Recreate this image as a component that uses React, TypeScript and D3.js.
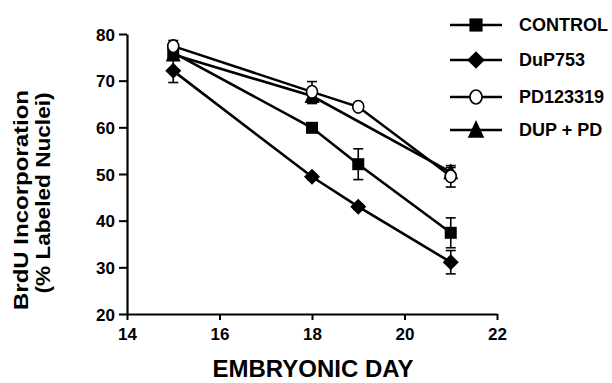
import * as d3 from "d3";
import { useEffect, useRef } from "react";

// embryonic days and BrdU values (% labeled nuclei)
const days = [15, 18, 19, 21];
const controlVals = [76, 59.9, 52.1, 37.4];
const controlErr = [0.6, 0.6, 3.3, 3.2];
const dupVals = [72.1, 49.4, 43, 31.1];
const dupErr = [2.5, 0.6, 0.6, 2.5];
const pdVals = [77.4, 67.6, 64.4, 49.5];
const pdErr = [1.2, 2.2, 0.6, 2.3];
const dupPdDays = [15, 18, 21];
const dupPdVals = [75.6, 66.7, 50.4];
const dupPdErr = [0.8, 1.6, 1.0];

const xTicks = [14, 16, 18, 20, 22];
const yTicks = [20, 30, 40, 50, 60, 70, 80];
const legendNames = ["CONTROL", "DuP753", "PD123319", "DUP + PD"];

const W = 612;
const H = 383;
const FONT = "'Liberation Sans', Arial, Helvetica, sans-serif";

const x = d3.scaleLinear().domain([14, 22]).range([127, 497]);
const y = d3.scaleLinear().domain([20, 80]).range([314, 34]);

type Kind = "square" | "diamond" | "circle" | "triangle";

function Marker({ kind, cx, cy, s = 1 }: { kind: Kind; cx: number; cy: number; s?: number }) {
  if (kind === "square") {
    const h = 6 * s;
    return <rect x={cx - h} y={cy - h} width={2 * h} height={2 * h} fill="#000" />;
  }
  if (kind === "diamond") {
    const h = 8 * s;
    return <path d={`M${cx},${cy - h}L${cx + h},${cy}L${cx},${cy + h}L${cx - h},${cy}Z`} fill="#000" />;
  }
  if (kind === "circle") {
    return <ellipse cx={cx} cy={cy} rx={5.5 * s} ry={6.3 * s} fill="#fff" stroke="#000" strokeWidth={1.6} />;
  }
  const w = 7.5 * s;
  return <path d={`M${cx},${cy - 9 * s}L${cx + w},${cy + 7 * s}L${cx - w},${cy + 7 * s}Z`} fill="#000" />;
}

const series = [
  { name: "DUP + PD", kind: "triangle" as Kind, xs: dupPdDays, vals: dupPdVals, err: dupPdErr },
  { name: "CONTROL", kind: "square" as Kind, xs: days, vals: controlVals, err: controlErr },
  { name: "DuP753", kind: "diamond" as Kind, xs: days, vals: dupVals, err: dupErr },
  { name: "PD123319", kind: "circle" as Kind, xs: days, vals: pdVals, err: pdErr },
];

export default function App() {
  const yAxisRef = useRef<SVGGElement>(null);
  const xAxisRef = useRef<SVGGElement>(null);

  useEffect(() => {
    const ya = d3.select(yAxisRef.current);
    ya.call(d3.axisLeft(y).tickValues(yTicks).tickSize(8).tickSizeOuter(0).tickPadding(4) as any);
    const xa = d3.select(xAxisRef.current);
    xa.call(d3.axisBottom(x).tickValues(xTicks).tickSize(6).tickSizeOuter(0).tickPadding(8) as any);
    [ya, xa].forEach((g) => {
      g.selectAll("path.domain").attr("stroke", "#000").attr("stroke-width", 2.2);
      g.selectAll(".tick line").attr("stroke", "#000").attr("stroke-width", 2);
      g.selectAll(".tick text")
        .attr("fill", "#000")
        .style("font-family", FONT)
        .style("font-weight", "bold")
        .style("font-size", "17px");
    });
    ya.selectAll(".tick text").attr("dy", "0.36em");
  }, []);

  const line = d3.line<[number, number]>().x((d) => x(d[0])).y((d) => y(d[1]));

  return (
    <svg width={W} height={H} style={{ position: "absolute", left: 0, top: 0, background: "#fff" }}>
      <g ref={yAxisRef} transform={`translate(${x(14)},0)`} />
      <g ref={xAxisRef} transform={`translate(0,${y(20)})`} />

      {/* error bars */}
      {series.map((s) =>
        s.xs.map((d, i) => {
          const cx = x(d);
          const top = y(s.vals[i] + s.err[i]);
          const bot = y(s.vals[i] - s.err[i]);
          return (
            <g key={s.name + d} stroke="#000" strokeWidth={1.6}>
              <line x1={cx} x2={cx} y1={top} y2={bot} />
              <line x1={cx - 5} x2={cx + 5} y1={top} y2={top} />
              <line x1={cx - 5} x2={cx + 5} y1={bot} y2={bot} />
            </g>
          );
        })
      )}

      {/* lines */}
      {series.map((s) => (
        <path
          key={s.name + "-line"}
          d={line(s.xs.map((d, i) => [d, s.vals[i]] as [number, number])) || ""}
          fill="none"
          stroke="#000"
          strokeWidth={2.6}
        />
      ))}

      {/* markers */}
      {series.map((s) =>
        s.xs.map((d, i) => <Marker key={s.name + "m" + d} kind={s.kind} cx={x(d)} cy={y(s.vals[i])} />)
      )}

      {/* legend */}
      {legendNames.map((name, i) => {
        const ly = [25, 60, 97, 130][i];
        const kind = series.find((s) => s.name === name)!.kind;
        return (
          <g key={name}>
            <line x1={450} x2={502} y1={ly} y2={ly} stroke="#000" strokeWidth={2.4} />
            <Marker kind={kind} cx={476} cy={ly} s={1.1} />
            <text x={519} y={ly + 6} fontFamily={FONT} fontWeight="bold" fontSize={18} fill="#000">
              {name}
            </text>
          </g>
        );
      })}

      {/* axis titles */}
      <text
        x={313}
        y={377}
        textAnchor="middle"
        fontFamily={FONT}
        fontWeight="bold"
        fontSize={24}
        fill="#000"
      >
        EMBRYONIC DAY
      </text>
      <text
        transform="translate(28,200) rotate(-90)"
        textAnchor="middle"
        fontFamily={FONT}
        fontWeight="bold"
        fontSize={21}
        textLength={220}
        lengthAdjust="spacingAndGlyphs"
        fill="#000"
      >
        BrdU Incorporation
      </text>
      <text
        transform="translate(50,193) rotate(-90)"
        textAnchor="middle"
        fontFamily={FONT}
        fontWeight="bold"
        fontSize={21}
        textLength={201}
        lengthAdjust="spacingAndGlyphs"
        fill="#000"
      >
        (% Labeled Nuclei)
      </text>
    </svg>
  );
}
